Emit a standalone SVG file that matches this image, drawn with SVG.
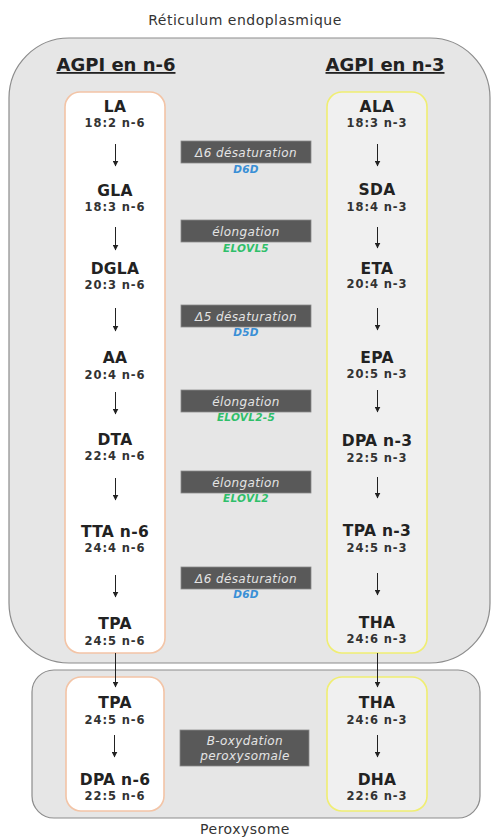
<svg xmlns="http://www.w3.org/2000/svg" width="493" height="838" viewBox="0 0 493 838">
<defs>
<marker id="ah" viewBox="0 0 10 10" refX="9" refY="5" markerWidth="6" markerHeight="6" markerUnits="userSpaceOnUse" orient="auto">
<path d="M0,0 L10,5 L0,10 z" fill="#222"/>
</marker>
</defs>
<style>
text{font-family:"DejaVu Sans","Liberation Sans",sans-serif;text-anchor:middle}
.title{font-size:14px;fill:#333;letter-spacing:0.5px}
.head{font-size:18px;font-weight:bold;fill:#222;text-decoration:underline}
.nm{font-size:15.5px;font-weight:bold;fill:#222;letter-spacing:0.3px}
.sb{font-size:11.5px;font-weight:bold;fill:#333;letter-spacing:0.9px}
.op{font-size:12px;font-style:italic;fill:#e4e4e4;letter-spacing:0.4px}
.enzb{font-size:10.5px;font-style:italic;font-weight:bold;fill:#3a8fd6;letter-spacing:0.3px}
.enzg{font-size:10.5px;font-style:italic;font-weight:bold;fill:#2fbf6a;letter-spacing:0.3px}
.opbox{fill:#595959;stroke:#8a8a8a;stroke-width:0.8}
.c6{fill:#ffffff;stroke:#f3c4a6;stroke-width:1.6}
.c3{fill:#f0f0f0;stroke:#f0ee72;stroke-width:1.6}
.ar{stroke:#222;stroke-width:1;fill:none;marker-end:url(#ah)}
.comp{fill:#e6e6e6;stroke:#8c8c8c;stroke-width:1.2}
</style>

<g id="reticulum">
<rect class="comp" x="9" y="38" width="481" height="625" rx="60" ry="60"/>
<text class="title" x="245" y="25">Réticulum endoplasmique</text>
<text class="head" x="116" y="71">AGPI en n-6</text>
<text class="head" x="385" y="71">AGPI en n-3</text>
</g>

<g id="peroxysome">
<rect class="comp" x="32" y="670" width="448" height="148" rx="22" ry="22"/>
<text class="title" x="245" y="834">Peroxysome</text>
</g>

<g id="col-n6">
<rect class="c6" x="65" y="92" width="100" height="561" rx="15" ry="15"/>
<text class="nm" x="115" y="112">LA</text><text class="sb" x="115" y="127">18:2 n-6</text>
<text class="nm" x="115" y="196">GLA</text><text class="sb" x="115" y="211">18:3 n-6</text>
<text class="nm" x="115" y="274">DGLA</text><text class="sb" x="115" y="289">20:3 n-6</text>
<text class="nm" x="115" y="363">AA</text><text class="sb" x="115" y="379">20:4 n-6</text>
<text class="nm" x="115" y="445">DTA</text><text class="sb" x="115" y="460">22:4 n-6</text>
<text class="nm" x="115" y="537">TTA n-6</text><text class="sb" x="115" y="552">24:4 n-6</text>
<text class="nm" x="115" y="629">TPA</text><text class="sb" x="115" y="645">24:5 n-6</text>
</g>

<g id="col-n3">
<rect class="c3" x="327" y="92" width="100" height="561" rx="15" ry="15"/>
<text class="nm" x="377" y="112">ALA</text><text class="sb" x="377" y="127">18:3 n-3</text>
<text class="nm" x="377" y="195">SDA</text><text class="sb" x="377" y="211">18:4 n-3</text>
<text class="nm" x="377" y="274">ETA</text><text class="sb" x="377" y="288">20:4 n-3</text>
<text class="nm" x="377" y="363">EPA</text><text class="sb" x="377" y="378">20:5 n-3</text>
<text class="nm" x="377" y="446">DPA n-3</text><text class="sb" x="377" y="462">22:5 n-3</text>
<text class="nm" x="377" y="536">TPA n-3</text><text class="sb" x="377" y="552">24:5 n-3</text>
<text class="nm" x="377" y="628">THA</text><text class="sb" x="377" y="643">24:6 n-3</text>
</g>

<g id="perox-n6">
<rect class="c6" x="66" y="677" width="98" height="134" rx="15" ry="15"/>
<text class="nm" x="115" y="708">TPA</text><text class="sb" x="115" y="724">24:5 n-6</text>
<text class="nm" x="115" y="785">DPA n-6</text><text class="sb" x="115" y="800">22:5 n-6</text>
</g>

<g id="perox-n3">
<rect class="c3" x="327" y="677" width="100" height="134" rx="15" ry="15"/>
<text class="nm" x="377" y="708">THA</text><text class="sb" x="377" y="724">24:6 n-3</text>
<text class="nm" x="377" y="785">DHA</text><text class="sb" x="377" y="800">22:6 n-3</text>
</g>

<g id="step-d6d-1">
<rect class="opbox" x="181" y="141" width="130" height="22"/>
<text class="op" x="246" y="157">Δ6 désaturation</text>
<text class="enzb" x="246" y="173">D6D</text>
</g>
<g id="step-elovl5">
<rect class="opbox" x="181" y="220" width="130" height="22"/>
<text class="op" x="246" y="236">élongation</text>
<text class="enzg" x="246" y="252">ELOVL5</text>
</g>
<g id="step-d5d">
<rect class="opbox" x="181" y="305" width="130" height="22"/>
<text class="op" x="246" y="321">Δ5 désaturation</text>
<text class="enzb" x="246" y="336">D5D</text>
</g>
<g id="step-elovl25">
<rect class="opbox" x="181" y="390" width="130" height="22"/>
<text class="op" x="246" y="406">élongation</text>
<text class="enzg" x="246" y="421">ELOVL2-5</text>
</g>
<g id="step-elovl2">
<rect class="opbox" x="181" y="471" width="130" height="22"/>
<text class="op" x="246" y="487">élongation</text>
<text class="enzg" x="246" y="502">ELOVL2</text>
</g>
<g id="step-d6d-2">
<rect class="opbox" x="181" y="567" width="130" height="22"/>
<text class="op" x="246" y="583">Δ6 désaturation</text>
<text class="enzb" x="246" y="598">D6D</text>
</g>
<g id="step-beta">
<rect class="opbox" x="180" y="730" width="129" height="36"/>
<text class="op" x="245" y="745">B-oxydation</text>
<text class="op" x="245" y="760">peroxysomale</text>
</g>

<g id="connectors">
<line class="ar" x1="115.5" y1="144" x2="115.5" y2="166"/>
<line class="ar" x1="115.5" y1="227" x2="115.5" y2="250"/>
<line class="ar" x1="115.5" y1="308" x2="115.5" y2="331"/>
<line class="ar" x1="115.5" y1="392" x2="115.5" y2="414"/>
<line class="ar" x1="115.5" y1="478" x2="115.5" y2="500"/>
<line class="ar" x1="115.5" y1="575" x2="115.5" y2="597"/>
<line class="ar" x1="377.5" y1="144" x2="377.5" y2="166"/>
<line class="ar" x1="377.5" y1="227" x2="377.5" y2="248"/>
<line class="ar" x1="377.5" y1="308" x2="377.5" y2="330"/>
<line class="ar" x1="377.5" y1="390" x2="377.5" y2="412"/>
<line class="ar" x1="377.5" y1="477" x2="377.5" y2="498"/>
<line class="ar" x1="377.5" y1="573" x2="377.5" y2="595"/>
<line class="ar" x1="115.5" y1="653" x2="115.5" y2="687"/>
<line class="ar" x1="377.5" y1="653" x2="377.5" y2="687"/>
<line class="ar" x1="114.5" y1="735" x2="114.5" y2="757"/>
<line class="ar" x1="377.5" y1="735" x2="377.5" y2="757"/>
</g>
</svg>
